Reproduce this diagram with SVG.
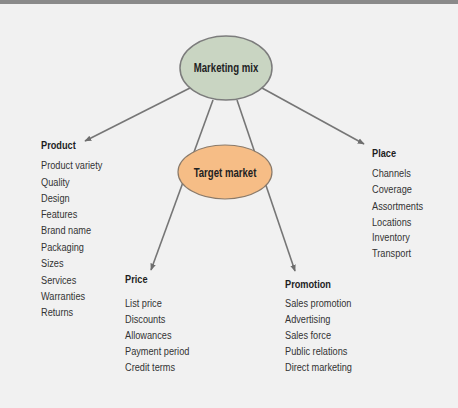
<svg xmlns="http://www.w3.org/2000/svg" width="458" height="408" viewBox="0 0 458 408">
<defs>
<marker id="arr" viewBox="0 0 10 10" refX="9" refY="5" markerWidth="7" markerHeight="7" markerUnits="userSpaceOnUse" orient="auto">
<path d="M0,1 L10,5 L0,9 Z" fill="#6e6e6e"/>
</marker>
<style>
.bg{fill:#f1f1f1}
.edge{stroke:#767676;stroke-width:1.6;fill:none;marker-end:url(#arr)}
.t{font-family:"Liberation Sans",Arial,sans-serif;font-size:11.5px;fill:#333}
.h{font-family:"Liberation Sans",Arial,sans-serif;font-size:11.5px;font-weight:bold;fill:#1e1e1e}
.el{font-family:"Liberation Sans",Arial,sans-serif;font-size:12px;font-weight:bold;fill:#222;text-anchor:middle}
</style>
</defs>
<rect class="bg" x="0" y="0" width="458" height="408"/>
<rect x="0" y="0" width="458" height="4" fill="#8a8a8a"/>
<g id="connectors">
<line class="edge" x1="190" y1="88" x2="85" y2="141"/>
<line class="edge" x1="262" y1="88" x2="364" y2="144"/>
<line class="edge" x1="213" y1="100" x2="151" y2="270"/>
<line class="edge" x1="237" y1="100" x2="295" y2="271"/>
</g>
<g id="marketing-mix">
<ellipse cx="226" cy="68" rx="46" ry="32" fill="#c9d5c2" stroke="#7c7c7c" stroke-width="1.5"/>
<g transform="translate(226,72) scale(0.8,1)"><text class="el" x="0" y="0">Marketing mix</text></g>
</g>
<g id="target-market">
<ellipse cx="225" cy="172" rx="47" ry="27" fill="#f6bd86" stroke="#8a7a6a" stroke-width="1.2"/>
<g transform="translate(225,177) scale(0.8,1)"><text class="el" x="0" y="0">Target market</text></g>
</g>
<g id="product" transform="translate(41,0) scale(0.8,1)">
<text class="h" x="0" y="149">Product</text>
<text class="t" x="0" y="169">Product variety</text>
<text class="t" x="0" y="186">Quality</text>
<text class="t" x="0" y="202">Design</text>
<text class="t" x="0" y="218">Features</text>
<text class="t" x="0" y="234">Brand name</text>
<text class="t" x="0" y="251">Packaging</text>
<text class="t" x="0" y="267">Sizes</text>
<text class="t" x="0" y="284">Services</text>
<text class="t" x="0" y="300">Warranties</text>
<text class="t" x="0" y="316">Returns</text>
</g>
<g id="place" transform="translate(372,0) scale(0.8,1)">
<text class="h" x="0" y="157">Place</text>
<text class="t" x="0" y="177">Channels</text>
<text class="t" x="0" y="193">Coverage</text>
<text class="t" x="0" y="210">Assortments</text>
<text class="t" x="0" y="226">Locations</text>
<text class="t" x="0" y="241">Inventory</text>
<text class="t" x="0" y="257">Transport</text>
</g>
<g id="price" transform="translate(125,0) scale(0.8,1)">
<text class="h" x="0" y="283">Price</text>
<text class="t" x="0" y="307">List price</text>
<text class="t" x="0" y="323">Discounts</text>
<text class="t" x="0" y="339">Allowances</text>
<text class="t" x="0" y="355">Payment period</text>
<text class="t" x="0" y="371">Credit terms</text>
</g>
<g id="promotion" transform="translate(285,0) scale(0.8,1)">
<text class="h" x="0" y="288">Promotion</text>
<text class="t" x="0" y="307">Sales promotion</text>
<text class="t" x="0" y="323">Advertising</text>
<text class="t" x="0" y="339">Sales force</text>
<text class="t" x="0" y="355">Public relations</text>
<text class="t" x="0" y="371">Direct marketing</text>
</g>
</svg>
